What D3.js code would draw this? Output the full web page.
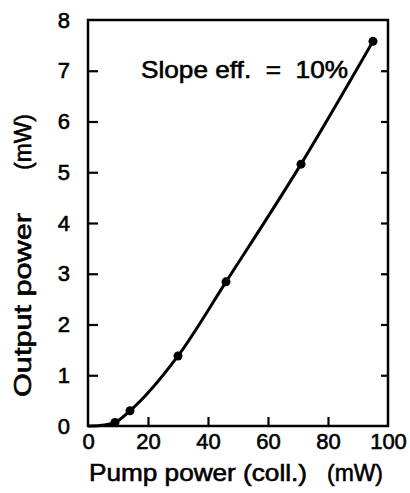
<!DOCTYPE html>
<html>
<head>
<meta charset="utf-8">
<script src="https://cdn.jsdelivr.net/npm/d3@7"></script>
<style>
  html, body { margin: 0; padding: 0; background: #fff; }
  svg { display: block; }
  text { font-family: "Liberation Sans", Arial, sans-serif; fill: #000; stroke: #000; stroke-width: 0.6px; }
</style>
</head>
<body>
<svg id="chart" width="410" height="493"></svg>
<script>
// ---- data ----
const pumpPower   = [9, 14, 30, 46, 71, 95];          // mW (collimated)
const outputPower = [0.07, 0.3, 1.38, 2.84, 5.16, 7.58]; // mW
// smooth fitted curve drawn through the measurements
const fitPump   = [0, 4, 9, 14, 30, 46, 71, 95];
const fitOutput = [0, 0.01, 0.07, 0.3, 1.38, 2.84, 5.16, 7.58];
const xTicks = [0, 20, 40, 60, 80, 100];
const yTicks = [0, 1, 2, 3, 4, 5, 6, 7, 8];
const annotation = "Slope eff.  =  10%";
const xLabelMain = "Pump power (coll.)";
const xLabelUnit = "(mW)";
const yLabelMain = "Output power";
const yLabelUnit = "(mW)";

const svg = d3.select("#chart");
const L = 88, R = 388, T = 20, B = 426;
const x = d3.scaleLinear().domain([0, 100]).range([L, R]);
const y = d3.scaleLinear().domain([0, 8]).range([B, T]);

// frame
svg.append("rect")
  .attr("x", L).attr("y", T).attr("width", R - L).attr("height", B - T)
  .attr("fill", "none").attr("stroke", "#000").attr("stroke-width", 2.5);

// left axis (inward ticks)
const gl = svg.append("g").attr("transform", `translate(${L},0)`)
  .call(d3.axisLeft(y).tickValues(yTicks).tickSizeInner(-10).tickSizeOuter(0).tickPadding(18).tickFormat(d3.format("d")));
gl.select(".domain").remove();
gl.selectAll(".tick line").attr("stroke-width", 2.2).filter(d => d === 0 || d === 8).remove();
gl.selectAll("text").style("font-size", "22px").attr("text-anchor", "end");

// right axis (short inward ticks, no labels)
const gr = svg.append("g").attr("transform", `translate(${R},0)`)
  .call(d3.axisRight(y).tickValues(yTicks.slice(1, -1)).tickSizeInner(-7).tickSizeOuter(0).tickFormat(""));
gr.select(".domain").remove();
gr.selectAll(".tick line").attr("stroke-width", 2.2);

// bottom axis
const gb = svg.append("g").attr("transform", `translate(0,${B})`)
  .call(d3.axisBottom(x).tickValues(xTicks).tickSizeInner(-9).tickSizeOuter(0).tickPadding(7).tickFormat(d3.format("d")));
gb.select(".domain").remove();
gb.selectAll(".tick line").attr("stroke-width", 2.2).filter(d => d === 0 || d === 100).remove();
gb.selectAll("text").style("font-size", "22px");

// curve
const fit = fitPump.map((p, i) => [p, fitOutput[i]]);
svg.append("path")
  .datum(fit)
  .attr("fill", "none").attr("stroke", "#000").attr("stroke-width", 3)
  .attr("d", d3.line().x(d => x(d[0])).y(d => y(d[1])).curve(d3.curveMonotoneX));

// points
svg.selectAll("circle.pt")
  .data(pumpPower.map((p, i) => [p, outputPower[i]]))
  .join("circle").attr("class", "pt")
  .attr("cx", d => x(d[0])).attr("cy", d => y(d[1])).attr("r", 4.5).attr("fill", "#000");

// annotation
svg.append("text").attr("x", 141).attr("y", 78)
  .attr("textLength", 207).attr("lengthAdjust", "spacingAndGlyphs")
  .style("font-size", "24px").style("white-space", "pre").text(annotation);

// x label
svg.append("text").attr("x", 89).attr("y", 481)
  .attr("textLength", 218).attr("lengthAdjust", "spacingAndGlyphs")
  .style("font-size", "24px").text(xLabelMain);
svg.append("text").attr("x", 327).attr("y", 481)
  .attr("textLength", 56).attr("lengthAdjust", "spacingAndGlyphs")
  .style("font-size", "24px").text(xLabelUnit);

// y label (rotated)
svg.append("text").attr("transform", "translate(31,397) rotate(-90)")
  .attr("textLength", 184).attr("lengthAdjust", "spacingAndGlyphs")
  .style("font-size", "24px").text(yLabelMain);
svg.append("text").attr("transform", "translate(31,170) rotate(-90)")
  .attr("textLength", 56).attr("lengthAdjust", "spacingAndGlyphs")
  .style("font-size", "24px").text(yLabelUnit);
</script>
</body>
</html>
